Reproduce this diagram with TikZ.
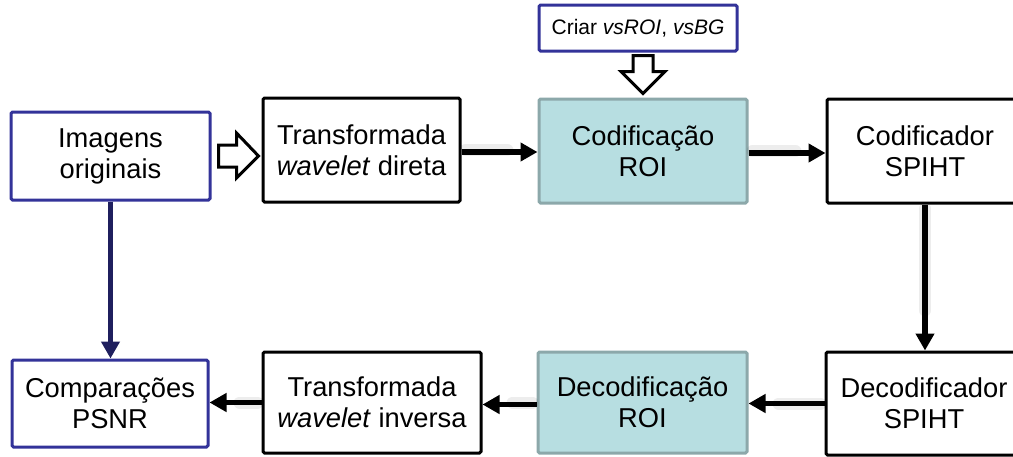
\documentclass[tikz,border=0pt]{standalone}
\usepackage{fontspec}
\setmainfont{Liberation Sans}
\usetikzlibrary{arrows.meta,calc}

\definecolor{boxblue}{RGB}{51,51,153}
\definecolor{linknavy}{RGB}{31,31,94}
\definecolor{roifill}{RGB}{183,222,225}
\definecolor{roiedge}{RGB}{140,168,170}

\tikzset{
  block/.style={draw=black, line width=3pt, fill=white, inner sep=0pt,
    rounded corners=1.5pt, align=center, font=\fontsize{27.3}{31}\selectfont},
  inbox/.style={block, draw=boxblue},
  roibox/.style={block, draw=roiedge, fill=roifill},
  flow/.style={line width=5.5pt, -{Triangle[length=17pt,width=18pt]}},
  flowshade/.style={line width=12pt, draw=black, opacity=0.07, line cap=round},
  hollow/.style={draw=black, line width=3pt, fill=white, line join=miter},
}

\begin{document}
\begin{tikzpicture}[x=1pt, y=-1pt]
  \useasboundingbox (0,0) rectangle (1013,456);

  % top row
  \node[inbox, minimum width=199pt, minimum height=88pt] (img) at (110.5,156)
    {Imagens\\originais};
  \node[block, minimum width=197pt, minimum height=104pt] (dir) at (361.5,150)
    {Transformada\\\textit{wavelet} direta};
  \node[roibox, minimum width=208pt, minimum height=104pt] (cod) at (643,151)
    {Codificação\\ROI};
  \node[block, minimum width=196pt, minimum height=104pt] (spc) at (925,151)
    {Codificador\\SPIHT};
  \node[inbox, minimum width=198pt, minimum height=46pt,
        font=\fontsize{21}{24}\selectfont] (mk) at (638,28)
    {Criar \textit{vsROI}, \textit{vsBG}};

  % bottom row
  \node[inbox, minimum width=196pt, minimum height=87pt] (cmp) at (110,403.5)
    {Comparações\\PSNR};
  \node[block, minimum width=218pt, minimum height=101pt] (inv) at (372,402.5)
    {Transformada\\\textit{wavelet} inversa};
  \node[roibox, minimum width=209pt, minimum height=101pt] (dec) at (642.5,402.5)
    {Decodificação\\ROI};
  \node[block, minimum width=196pt, minimum height=103pt] (spd) at (924,403.5)
    {Decodificador\\SPIHT};

  % soft shading under the black connectors
  \draw[flowshade] ($(dir.east)+(4,0)$) -- ($(dir.east -| cod.west)+(-30,0)$);
  \draw[flowshade] ($(cod.east)+(4,0)$) -- ($(cod.east -| spc.west)+(-30,0)$);
  \draw[flowshade] ($(spc.south)+(0,4)$) -- ($(spc.south |- spd.north)+(0,-40)$);
  \draw[flowshade] ($(spd.west)+(-4,0)$) -- ($(spd.west -| dec.east)+(30,0)$);
  \draw[flowshade] ($(dec.west)+(-4,0)$) -- ($(dec.west -| inv.east)+(30,0)$);
  \draw[flowshade] ($(inv.west)+(-4,0)$) -- ($(inv.west -| cmp.east)+(30,0)$);

  % connectors
  \draw[flow] ($(dir.east)+(0,2)$) -- ($(dir.east -| cod.west)+(0,2)$);
  \draw[flow] ($(cod.east)+(0,2)$) -- ($(cod.east -| spc.west)+(0,2)$);
  \draw[flow] (spc.south) -- (spc.south |- spd.north);
  \draw[flow] (spd.west) -- (spd.west -| dec.east);
  \draw[flow] ($(dec.west)+(0,2)$) -- ($(dec.west -| inv.east)+(0,2)$);
  \draw[flow] (inv.west) -- (inv.west -| cmp.east);
  \draw[flow, draw=linknavy, fill=linknavy] (img.south) -- (img.south |- cmp.north);

  % hollow block arrows
  \draw[hollow] ($(img.east)+(7,-11)$) -- ++(18,0) -- ++(0,-12) -- ++(22,23)
    -- ++(-22,22) -- ++(0,-11) -- ++(-18,0) -- cycle;
  \draw[hollow] ($(cod.north)+(-10,-42)$) -- ++(20,0) -- ++(0,16) -- ++(12,0)
    -- ++(-22,22) -- ++(-22,-22) -- ++(12,0) -- cycle;
\end{tikzpicture}
\end{document}
